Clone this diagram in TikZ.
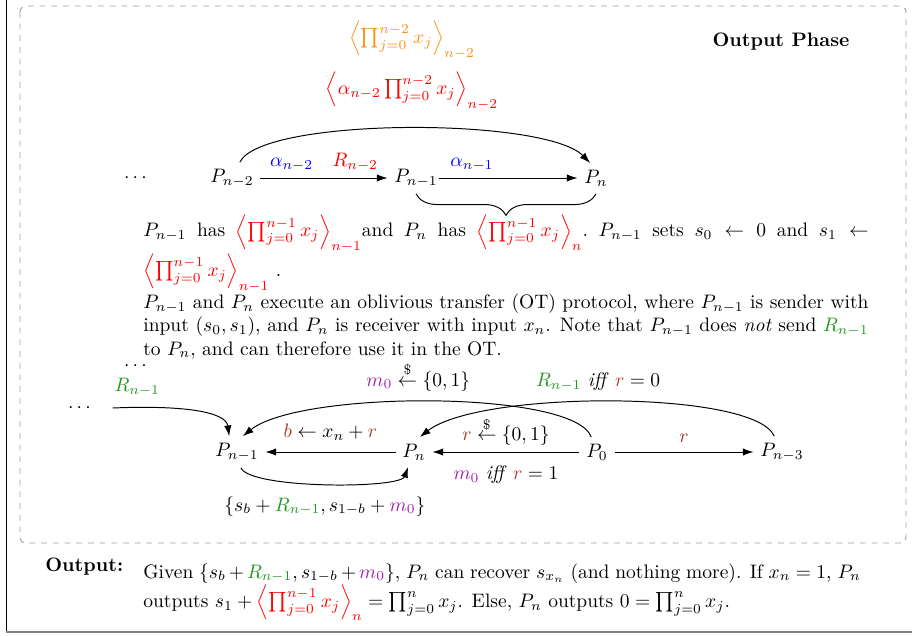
\documentclass[tikz,border=0pt]{standalone}
\usepackage{amsmath}
\usetikzlibrary{decorations.pathreplacing,arrows.meta}
\definecolor{mygreen}{rgb}{0.13,0.6,0.13}
\definecolor{mybrown}{RGB}{165,60,40}
\definecolor{mypurple}{RGB}{160,32,170}
\definecolor{myorange}{RGB}{250,145,20}
\newcommand{\myprod}[1]{\prod_{j=0}^{#1} x_j}
\tikzset{
  arr/.style={-{Latex[length=5.5pt,width=3.8pt]}, line width=0.5pt},
  para/.style={anchor=north west, text width=372pt, inner sep=0pt, align=justify},
}
\begin{document}
\begin{tikzpicture}[x=0.513pt,y=-0.513pt]
\useasboundingbox (0,0) rectangle (912,635);
% frames
\draw[black, line width=0.5pt] (6,-2) -- (6,632);
\draw[gray, line width=1.2pt] (6,632) -- (914,632);
\draw[gray!75, dashed, line width=0.5pt, rounded corners=3pt] (20,6) rectangle (906,543);

% top part
\node[font=\bfseries] (phase) at (781,42) {Output Phase};
\node (topor) at (412,40) {\textcolor{myorange}{$\left\langle\myprod{n-2}\right\rangle_{n-2}$}};
\node (topred) at (412,91) {\textcolor{red}{$\left\langle\alpha_{n-2}\myprod{n-2}\right\rangle_{n-2}$}};

\node (dots1) at (137,178) {$\cdots$};
\node (pn2) at (232,178) {$P_{n-2}$};
\node (pn1) at (416,178) {$P_{n-1}$};
\node (pn) at (596,178) {$P_n$};
\draw[arr] (pn2) -- node[above] {\textcolor{blue}{$\alpha_{n-2}$}\quad\textcolor{red}{$R_{n-2}$}} (pn1);
\draw[arr] ([xshift=-3pt]pn1.east) -- node[above, pos=0.24] {\textcolor{blue}{$\alpha_{n-1}$}} (pn);
\draw[arr] ([xshift=4pt]pn2.north) .. controls (262,117) and (545,117) .. ([xshift=-3pt]pn.north);
\draw[decorate, decoration={brace, mirror, amplitude=11pt}, line width=0.5pt]
  (pn1.south) -- (pn1.south -| pn.south);

\node[para] (txt1) at (143,214) {%
$P_{n-1}$ has \textcolor{red}{$\left\langle\myprod{n-1}\right\rangle_{n-1}$}and $P_n$ has \textcolor{red}{$\left\langle\myprod{n-1}\right\rangle_{n}$}.\ $P_{n-1}$ sets $s_0 \leftarrow 0$ and $s_1 \leftarrow$ \textcolor{red}{$\left\langle\myprod{n-1}\right\rangle_{n-1}$} .\par
$P_{n-1}$ and $P_n$ execute an oblivious transfer (OT) protocol, where $P_{n-1}$ is sender with input $(s_0, s_1)$, and $P_n$ is receiver with input $x_n$. Note that $P_{n-1}$ does \textit{not} send \textcolor{mygreen}{$R_{n-1}$} to $P_n$, and can therefore use it in the OT.};

% bottom diagram
\node (dotsA) at (137,366) {$\cdots$};
\node (dotsB) at (81,408) {$\cdots$};
\node (qn1) at (237,452) {$P_{n-1}$};
\node (qn) at (414,452) {$P_n$};
\node (q0) at (597,452) {$P_0$};
\node (qn3) at (782,452) {$P_{n-3}$};

\draw[arr] (qn) -- node[above=2.5pt] {$\textcolor{mybrown}{b} \leftarrow x_n + \textcolor{mybrown}{r}$} (qn1);
\draw[arr] (q0) -- node[above] {$\textcolor{mybrown}{r} \stackrel{\$}{\leftarrow} \{0,1\}$}
  node[below=3.5pt] {$\textcolor{mypurple}{m_0}$ \textit{iff} $\textcolor{mybrown}{r} = 1$} (qn);
\draw[arr] (q0) -- node[above=1.5pt] {$\textcolor{mybrown}{r}$} (qn3);

\draw[arr] ([xshift=-3pt]q0.north) .. controls (575,390) and (300,390) ..
  node[pos=0.53, above=2pt] {$\textcolor{mypurple}{m_0} \stackrel{\$}{\leftarrow} \{0,1\}$}
  ([xshift=3pt]qn1.north);
\draw[arr] ([xshift=-4pt]qn3.north) .. controls (755,390) and (480,390) ..
  node[pos=0.53, above=2pt] {\textcolor{mygreen}{$R_{n-1}$} \textit{iff} $\textcolor{mybrown}{r} = 0$}
  ([xshift=3pt]qn.north);
\draw[arr] ([xshift=6pt]dotsB.east) .. controls (185,405) and (226,412) ..
  node[pos=0.12, above=2pt] {\textcolor{mygreen}{$R_{n-1}$}}
  ([xshift=-4pt]qn1.north);
\draw[arr] ([xshift=2pt]qn1.south) .. controls (250,489) and (400,489) ..
  node[pos=0.5, below=3pt] {$\{s_b + \textcolor{mygreen}{R_{n-1}}, s_{1-b} + \textcolor{mypurple}{m_0}\}$}
  ([xshift=-3pt]qn.south);

% output
\node[anchor=base west, font=\bfseries, inner sep=0pt] (outlbl) at (45,571) {Output:};
\node[para, text width=368pt] (txt2) at (143,563) {%
Given $\{s_b + \textcolor{mygreen}{R_{n-1}}, s_{1-b} + \textcolor{mypurple}{m_0}\}$, $P_n$ can recover $s_{x_n}$ (and nothing more). If $x_n = 1$, $P_n$ outputs $s_1 + \textcolor{red}{\left\langle\myprod{n-1}\right\rangle_n} = \prod_{j=0}^{n} x_j$. Else, $P_n$ outputs $0 = \prod_{j=0}^{n} x_j$.};
\end{tikzpicture}
\end{document}
